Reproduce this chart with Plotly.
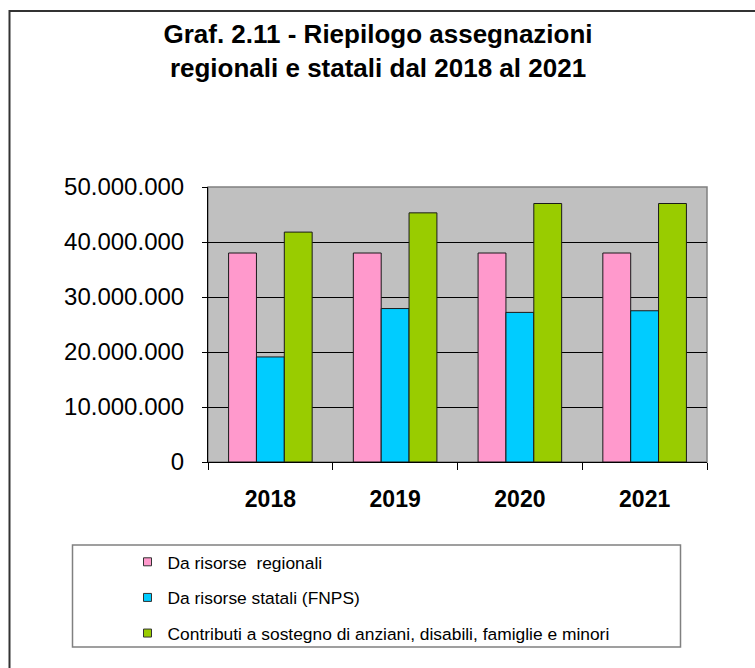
import plotly.graph_objects as go

years = ["2018", "2019", "2020", "2021"]
regionali = [38.0e6, 38.0e6, 38.0e6, 38.0e6]
statali = [19.1e6, 27.9e6, 27.2e6, 27.5e6]
contributi = [41.8e6, 45.3e6, 47.0e6, 47.0e6]

series_names = [
    "Da risorse  regionali",
    "Da risorse statali (FNPS)",
    "Contributi a sostegno di anziani, disabili, famiglie e minori",
]
colors = ["#FF99CC", "#00CCFF", "#99CC00"]

W, H = 755, 668
# plot area in page pixels
L, R, T, B = 208, 707, 187, 462


def px(x):  # page x -> paper
    return (x - L) / (R - L)


def py(y):  # page y -> paper
    return (B - y) / (B - T)


FONT = "Liberation Sans, Arial, sans-serif"

fig = go.Figure()
for i, (name, vals) in enumerate(zip(series_names, [regionali, statali, contributi])):
    fig.add_trace(go.Bar(
        x=years, y=vals, name=name,
        marker=dict(color=colors[i], line=dict(color="#1a1a1a", width=1)),
        legendgroup=f"g{i}", showlegend=False,
    ))
    # legend entry with a small square key, like the original
    fig.add_trace(go.Scatter(
        x=[None], y=[None], mode="markers", name=name,
        marker=dict(symbol="square", size=8, color=colors[i],
                    line=dict(color="#333333", width=1)),
        legendgroup=f"g{i}", showlegend=True, hoverinfo="skip",
    ))

fig.update_layout(
    width=W, height=H,
    margin=dict(l=L, r=W - R, t=T, b=H - B),
    paper_bgcolor="white",
    plot_bgcolor="#C0C0C0",
    separators=",.",
    barmode="group",
    bargap=0.33,
    bargroupgap=0,
    font=dict(family=FONT, color="black"),
    title=dict(
        text="Graf. 2.11 - Riepilogo assegnazioni<br>regionali e statali dal 2018 al 2021",
        font=dict(size=26, family=FONT, color="black", weight="bold"),
        x=378 / W, xref="container", xanchor="center",
        y=1 - 43 / H, yref="container", yanchor="top",
    ),
    showlegend=True,
    legend=dict(
        x=px(127.5), y=py(544), xanchor="left", yanchor="top",
        bgcolor="rgba(0,0,0,0)", borderwidth=0,
        font=dict(size=17.4, family=FONT),
        traceorder="grouped", tracegroupgap=10,
    ),
    xaxis=dict(
        showline=True, linecolor="black", linewidth=1,
        ticks="outside", ticklen=7, tickcolor="black", tickson="boundaries",
        tickfont=dict(size=23, weight="bold", family=FONT),
        ticklabelstandoff=16,
        showgrid=False,
    ),
    yaxis=dict(
        range=[0, 50e6], dtick=10e6, tickformat=",d",
        showline=True, linecolor="black", linewidth=1,
        ticks="outside", ticklen=5, tickcolor="black",
        showgrid=True, gridcolor="black", gridwidth=1,
        zeroline=False,
        tickfont=dict(size=24, family=FONT),
        ticklabelstandoff=13,
    ),
    shapes=[
        # plot area border
        dict(type="rect", xref="paper", yref="paper", x0=0, x1=1, y0=0, y1=1,
             line=dict(color="#808080", width=1.5), layer="below"),
        # legend frame
        dict(type="rect", xref="paper", yref="paper",
             x0=px(72.5), x1=px(680.5), y0=py(647), y1=py(545),
             line=dict(color="#808080", width=1.5), fillcolor="rgba(0,0,0,0)"),
        # outer chart frame (top and left)
        dict(type="line", xref="paper", yref="paper",
             x0=px(9), x1=px(770), y0=py(11), y1=py(11),
             line=dict(color="#333333", width=2)),
        dict(type="line", xref="paper", yref="paper",
             x0=px(9.5), x1=px(9.5), y0=py(10), y1=py(690),
             line=dict(color="#333333", width=2)),
    ],
)

fig.write_html(
    "out.html",
    config={"displayModeBar": False},
    post_script="document.body.style.margin='0';document.body.style.overflow='hidden';",
)
